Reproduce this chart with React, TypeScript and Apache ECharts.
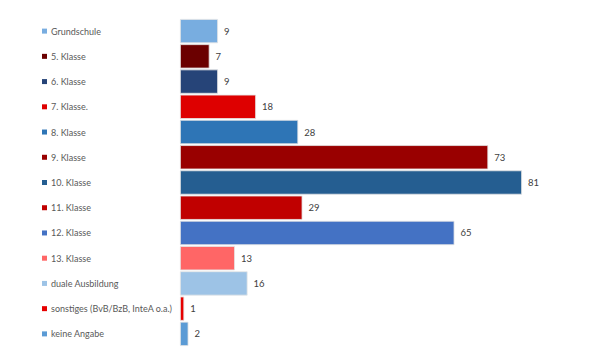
import React, { useEffect, useRef } from "react";
import * as echarts from "echarts";

const categories = [
  "Grundschule",
  "5. Klasse",
  "6. Klasse",
  "7. Klasse.",
  "8. Klasse",
  "9. Klasse",
  "10. Klasse",
  "11. Klasse",
  "12. Klasse",
  "13. Klasse",
  "duale Ausbildung",
  "sonstiges (BvB/BzB, InteA o.a.)",
  "keine Angabe",
];
const values = [9, 7, 9, 18, 28, 73, 81, 29, 65, 13, 16, 1, 2];
const colors = [
  "#78ade0",
  "#6b0000",
  "#264478",
  "#de0000",
  "#2e75b6",
  "#990000",
  "#255e91",
  "#c00000",
  "#4472c4",
  "#ff6666",
  "#9dc3e6",
  "#e60000",
  "#5b9bd5",
];

export default function App() {
  const ref = useRef<HTMLDivElement>(null);
  useEffect(() => {
    if (!ref.current) return;
    document.body.style.margin = "0";
    const chart = echarts.init(ref.current, undefined, { renderer: "svg" });
    const rich: any = {
      t: { color: "#595959", fontSize: 9, fontFamily: "Lato", padding: [0, 0, 0, 4] },
    };
    colors.forEach((c, i) => {
      rich["m" + i] = { width: 5, height: 5, backgroundColor: c };
    });
    chart.setOption({
      animation: false,
      backgroundColor: "#ffffff",
      grid: { left: 180, top: 18.5, width: 380, height: 328, containLabel: false },
      xAxis: { type: "value", min: 0, max: 90, show: false },
      yAxis: {
        type: "category",
        data: categories,
        inverse: true,
        axisLine: { show: false },
        axisTick: { show: false },
        axisLabel: {
          align: "left",
          margin: 138,
          formatter: (v: string) => {
            const i = categories.indexOf(v);
            return `{m${i}|}{t|${v}}`;
          },
          rich,
        },
      },
      series: [
        {
          type: "bar",
          barCategoryGap: "4%",
          data: values.map((v, i) => ({
            value: v,
            itemStyle: { color: colors[i], borderColor: "#e4e4e4", borderWidth: 0.8 },
          })),
          label: {
            show: true,
            position: "right",
            distance: 6,
            color: "#404040",
            fontSize: 9.5,
            fontFamily: "Lato",
          },
        },
      ],
    });
    return () => chart.dispose();
  }, []);
  return <div ref={ref} style={{ width: 590, height: 358 }} />;
}
